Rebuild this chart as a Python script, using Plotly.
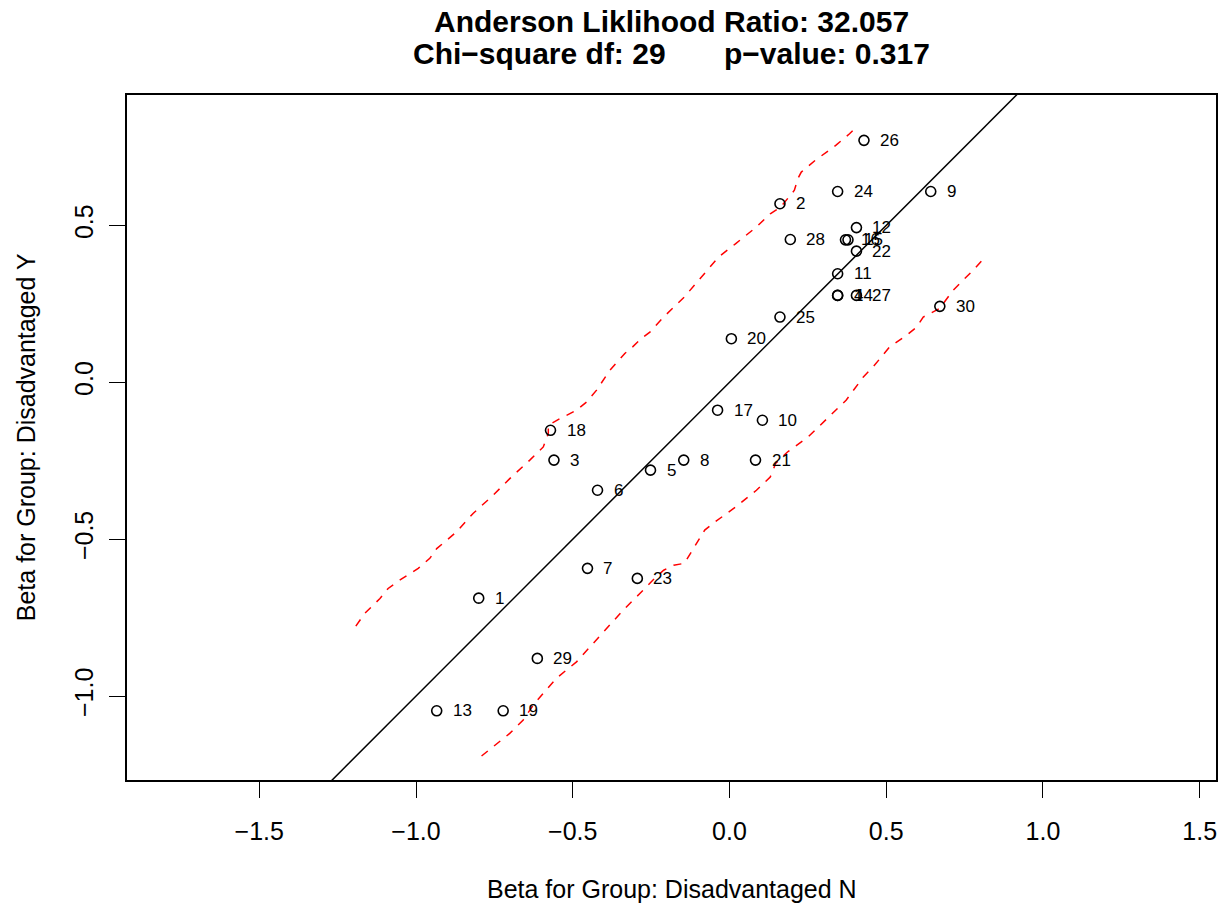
import plotly.graph_objects as go

# ---- data ----
item_labels = [str(i) for i in range(1, 31)]
beta_N = [-0.800, 0.161, -0.560, 0.345, -0.252, -0.421, -0.453, -0.146, 0.642, 0.105,
          0.345, 0.405, -0.934, 0.345, 0.378, 0.370, -0.038, -0.571, -0.722, 0.006,
          0.083, 0.405, -0.294, 0.345, 0.161, 0.429, 0.405, 0.194, -0.613, 0.671]
beta_Y = [-0.688, 0.569, -0.248, 0.277, -0.280, -0.344, -0.593, -0.248, 0.608, -0.121,
          0.346, 0.493, -1.047, 0.277, 0.454, 0.454, -0.089, -0.153, -1.047, 0.139,
          -0.248, 0.418, -0.625, 0.608, 0.208, 0.771, 0.277, 0.455, -0.880, 0.242]

upper_x = [-1.192, -1.163, -1.115, -1.089, -1.051, -0.993, -0.956, -0.934, -0.871, -0.818,
           -0.754, -0.701, -0.637, -0.594, -0.578, -0.578, -0.541, -0.488, -0.456, -0.424,
           -0.382, -0.334, -0.309, -0.282, -0.254, -0.210, -0.144, -0.079, -0.035, 0.020,
           0.086, 0.130, 0.163, 0.207, 0.218, 0.229, 0.273, 0.339, 0.383, 0.410]
upper_y = [-0.777, -0.736, -0.689, -0.657, -0.630, -0.593, -0.561, -0.530, -0.477, -0.418,
           -0.360, -0.307, -0.248, -0.206, -0.163, -0.137, -0.116, -0.089, -0.063, -0.025,
           0.038, 0.092, 0.113, 0.139, 0.160, 0.208, 0.272, 0.346, 0.399, 0.442,
           0.495, 0.537, 0.558, 0.612, 0.649, 0.670, 0.707, 0.755, 0.792, 0.819]
lower_x = [-0.791, -0.754, -0.701, -0.658, -0.626, -0.594, -0.552, -0.488, -0.435, -0.382,
           -0.339, -0.286, -0.244, -0.210, -0.178, -0.144, -0.112, -0.079, -0.046, 0.020,
           0.086, 0.130, 0.147, 0.185, 0.251, 0.306, 0.372, 0.427, 0.458, 0.511,
           0.565, 0.597, 0.618, 0.639, 0.671, 0.713, 0.777, 0.820]
lower_y = [-1.191, -1.161, -1.119, -1.076, -1.029, -0.991, -0.943, -0.891, -0.832, -0.774,
           -0.726, -0.673, -0.630, -0.599, -0.583, -0.577, -0.524, -0.471, -0.445, -0.397,
           -0.344, -0.302, -0.259, -0.222, -0.174, -0.121, -0.057, 0.017, 0.049, 0.113,
           0.150, 0.176, 0.208, 0.219, 0.236, 0.293, 0.357, 0.404]

x_ticks = [-1.5, -1.0, -0.5, 0.0, 0.5, 1.0, 1.5]
x_ticktext = ["\u22121.5", "\u22121.0", "\u22120.5", "0.0", "0.5", "1.0", "1.5"]
y_ticks = [-1.0, -0.5, 0.0, 0.5]
y_ticktext = ["\u22121.0", "\u22120.5", "0.0", "0.5"]

x_range = [-1.922, 1.552]
y_range = [-1.2675, 0.9156]
ref_intercept, ref_slope = 0.0, 1.0

title1 = "Anderson Liklihood Ratio: 32.057"
title2 = "Chi\u2212square df: 29\u00a0\u00a0\u00a0\u00a0\u00a0\u00a0\u00a0p\u2212value: 0.317"
x_title = "Beta for Group: Disadvantaged N"
y_title = "Beta for Group: Disadvantaged Y"

FONT = "Liberation Sans, Arial, Helvetica, sans-serif"

fig = go.Figure()

# reference line y = x
fig.add_trace(go.Scatter(
    x=x_range, y=[ref_intercept + ref_slope * v for v in x_range],
    mode="lines", line=dict(color="black", width=1.5), hoverinfo="skip", showlegend=False))

# confidence bands
fig.add_trace(go.Scatter(x=upper_x, y=upper_y, mode="lines",
                         line=dict(color="#ff0000", width=1.5, dash="8px,8px"),
                         showlegend=False, hoverinfo="skip"))
fig.add_trace(go.Scatter(x=lower_x, y=lower_y, mode="lines",
                         line=dict(color="#ff0000", width=1.5, dash="8px,8px"),
                         showlegend=False, hoverinfo="skip"))

# points
fig.add_trace(go.Scatter(
    x=beta_N, y=beta_Y, mode="markers",
    marker=dict(symbol="circle-open", size=10, color="black", line=dict(width=1.6, color="black")),
    showlegend=False))

# point labels
for xv, yv, lab in zip(beta_N, beta_Y, item_labels):
    fig.add_annotation(x=xv, y=yv, text=lab, showarrow=False, xanchor="left", yanchor="middle",
                       xshift=14, font=dict(family=FONT, size=17, color="black"))

# titles
fig.add_annotation(x=0.5, y=1.107, xref="paper", yref="paper", text="<b>" + title1 + "</b>",
                   showarrow=False, xanchor="center", yanchor="middle",
                   font=dict(family=FONT, size=30, color="black"))
fig.add_annotation(x=0.5, y=1.061, xref="paper", yref="paper", text="<b>" + title2 + "</b>",
                   showarrow=False, xanchor="center", yanchor="middle",
                   font=dict(family=FONT, size=30, color="black"))
fig.add_annotation(x=0.5, y=-0.159, xref="paper", yref="paper", text=x_title,
                   showarrow=False, xanchor="center", yanchor="middle",
                   font=dict(family=FONT, size=25, color="black"))
fig.add_annotation(x=-0.093, y=0.5, xref="paper", yref="paper", text=y_title, textangle=-90,
                   showarrow=False, xanchor="center", yanchor="middle",
                   font=dict(family=FONT, size=25, color="black"))

fig.update_layout(
    width=1229, height=909,
    margin=dict(l=127, r=13, t=95, b=129, pad=0),
    paper_bgcolor="white", plot_bgcolor="white",
    font=dict(family=FONT, size=25, color="black"),
    showlegend=False,
)
fig.update_xaxes(range=x_range, tickvals=x_ticks, ticktext=x_ticktext, ticks="outside",
                 ticklen=16, tickwidth=1.3, tickcolor="black", showgrid=False, zeroline=False,
                 showline=True, linecolor="black", linewidth=1.5, mirror=True,
                 tickfont=dict(family=FONT, size=25), ticklabelstandoff=12)
fig.update_yaxes(range=y_range, tickvals=y_ticks, ticktext=y_ticktext, ticks="outside",
                 ticklen=16, tickwidth=1.3, tickcolor="black", showgrid=False, zeroline=False,
                 showline=True, linecolor="black", linewidth=1.5, mirror=True,
                 tickangle=-90, tickfont=dict(family=FONT, size=25), ticklabelstandoff=6)

fig.write_html("out.html", config={"displayModeBar": False},
               post_script="document.body.style.margin='0';document.body.style.overflow='hidden';")
